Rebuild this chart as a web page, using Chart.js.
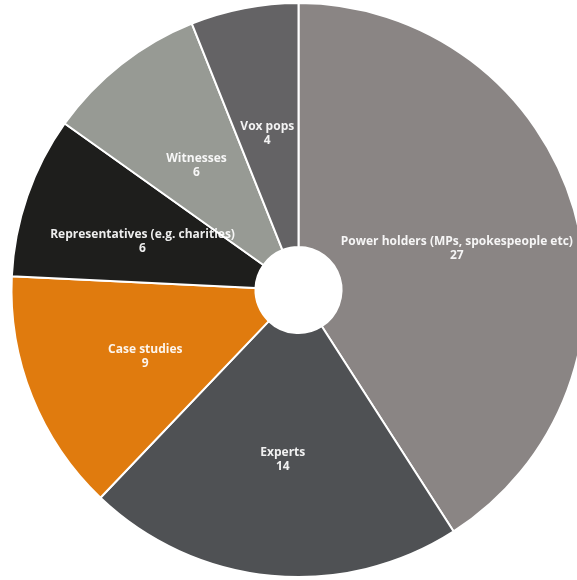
<!DOCTYPE html>
<html>
<head>
<meta charset="utf-8">
<script src="https://cdn.jsdelivr.net/npm/chart.js@4"></script>
<style>
  html, body { margin: 0; padding: 0; background: #ffffff; overflow: hidden; }
  #wrap { position: absolute; left: 0; top: 0; width: 597px; height: 580px; }
</style>
</head>
<body>
<div id="wrap"><canvas id="sourcesPie"></canvas></div>
<script>
const categories = ['Power holders (MPs, spokespeople etc)', 'Experts', 'Case studies', 'Representatives (e.g. charities)', 'Witnesses', 'Vox pops'];
const counts = [27, 14, 9, 6, 6, 4];
const sliceColours = ['#8a8584', '#4f5154', '#e07b0e', '#1e1e1c', '#979a94', '#646365'];

// draws "name / count" at the middle of each slice
const sliceLabels = {
    id: 'sliceLabels',
    afterDatasetsDraw(chart) {
        const ctx = chart.ctx;
        const meta = chart.getDatasetMeta(0);
        ctx.save();
        ctx.font = 'bold 12px "Open Sans", sans-serif';
        ctx.fillStyle = 'rgba(255,255,255,0.92)';
        ctx.textAlign = 'center';
        ctx.textBaseline = 'middle';
        meta.data.forEach((arc, i) => {
            const pos = arc.tooltipPosition();
            ctx.fillText(categories[i], pos.x, pos.y - 1.5);
            ctx.fillText(String(counts[i]), pos.x, pos.y + 12.5);
        });
        ctx.restore();
    }
};

const pieData = {
    labels: categories,
    datasets: [{ data: counts, backgroundColor: sliceColours, borderColor: '#ffffff', borderWidth: 2 }],
};

new Chart(document.getElementById('sourcesPie').getContext('2d'), {
    type: 'doughnut',
    data: pieData,
    options: {
        responsive: true,
        maintainAspectRatio: false,
        animation: false,
        cutout: '15%',
        layout: { padding: { top: 2, bottom: 2 } },
        plugins: { legend: { display: false }, tooltip: { enabled: false } },
    },
    plugins: [sliceLabels],
});
</script>
</body>
</html>
